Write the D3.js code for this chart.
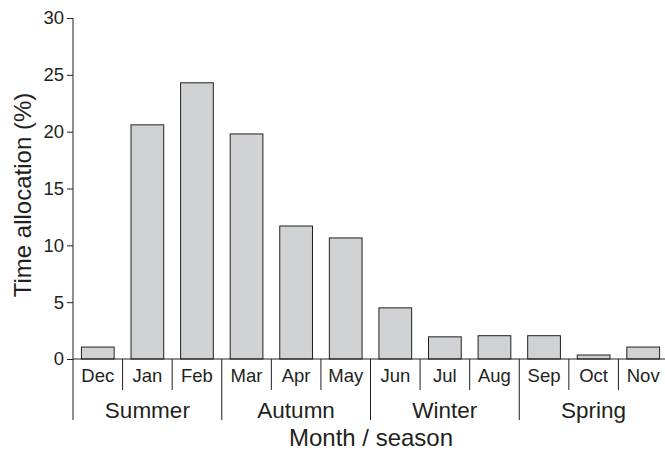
<!DOCTYPE html>
<meta charset="utf-8">
<style>
    body { margin: 0; background: #fff; }
    svg text { font-family: "Liberation Sans", Arial, sans-serif; fill: #231f20; }
    .bar { fill: #d1d2d4; stroke: #231f20; stroke-width: 1px; }
    .rule { stroke: #231f20; stroke-width: 1px; }
</style>
<svg width="665" height="453"></svg>
<script src="https://d3js.org/d3.v7.min.js"></script>
<script>

    var months = ["Dec", "Jan", "Feb", "Mar", "Apr", "May", "Jun", "Jul", "Aug", "Sep", "Oct", "Nov"];
    var values = [1.05, 20.6, 24.3, 19.8, 11.7, 10.65, 4.5, 1.95, 2.05, 2.05, 0.35, 1.05];
    var seasons = ["Summer", "Autumn", "Winter", "Spring"];
    var yTicks = [0, 5, 10, 15, 20, 25, 30];

    var svg = d3.select("svg");
    var plotLeft = 73, plotRight = 668, plotTop = 18, plotBottom = 359;

    // one slot per month, bar sits in the middle of it
    var slot = d3.scaleBand()
        .domain(months)
        .range([plotLeft, plotRight]);

    var yScale = d3.scaleLinear()
        .domain([0, 30])
        .range([plotBottom, plotTop]);

    var barW = slot.bandwidth() * 0.66;

    svg.append("g")
        .selectAll("rect")
        .data(months)
        .enter().append("rect")
        .attr("class", "bar")
        .attr("x", function (d) { return slot(d) + (slot.bandwidth() - barW) / 2; })
        .attr("y", function (d, i) { return yScale(values[i]); })
        .attr("width", barW)
        .attr("height", function (d, i) { return plotBottom - yScale(values[i]); });

    // y axis
    var yAxis = svg.append("g")
        .attr("transform", "translate(" + plotLeft + ",0)")
        .call(d3.axisLeft(yScale).tickValues(yTicks).tickSize(6).tickPadding(3));
    yAxis.select(".domain").remove();
    yAxis.selectAll("line").attr("stroke", "#231f20");
    yAxis.selectAll("text").style("font-size", "18.5px").attr("fill", "#231f20");

    svg.append("line").attr("class", "rule")
        .attr("x1", plotLeft).attr("x2", plotLeft)
        .attr("y1", yScale(30)).attr("y2", 420);

    svg.append("line").attr("class", "rule")
        .attr("x1", plotLeft).attr("x2", plotRight)
        .attr("y1", plotBottom).attr("y2", plotBottom);

    // month dividers and labels
    svg.append("g")
        .selectAll("line")
        .data(months.slice(1))
        .enter().append("line")
        .attr("class", "rule")
        .attr("x1", function (d) { return slot(d); })
        .attr("x2", function (d) { return slot(d); })
        .attr("y1", plotBottom)
        .attr("y2", function (d, i) { return (i + 1) % 3 === 0 ? 420 : 390; });

    svg.append("g")
        .selectAll("text")
        .data(months)
        .enter().append("text")
        .attr("x", function (d) { return slot(d) + slot.bandwidth() / 2; })
        .attr("y", 376)
        .attr("dy", "0.35em")
        .attr("text-anchor", "middle")
        .style("font-size", "18.5px")
        .text(function (d) { return d; });

    svg.append("g")
        .selectAll("text")
        .data(seasons)
        .enter().append("text")
        .attr("x", function (d, i) { return slot(months[i * 3 + 1]) + slot.bandwidth() / 2; })
        .attr("y", 410)
        .attr("dy", "0.35em")
        .attr("text-anchor", "middle")
        .style("font-size", "22.5px")
        .text(function (d) { return d; });

    svg.append("text")
        .attr("x", 371)
        .attr("y", 438)
        .attr("dy", "0.35em")
        .attr("text-anchor", "middle")
        .style("font-size", "24px")
        .text("Month / season");

    svg.append("text")
        .attr("transform", "translate(23,195) rotate(-90)")
        .attr("dy", "0.35em")
        .attr("text-anchor", "middle")
        .style("font-size", "24px")
        .text("Time allocation (%)");

</script>
